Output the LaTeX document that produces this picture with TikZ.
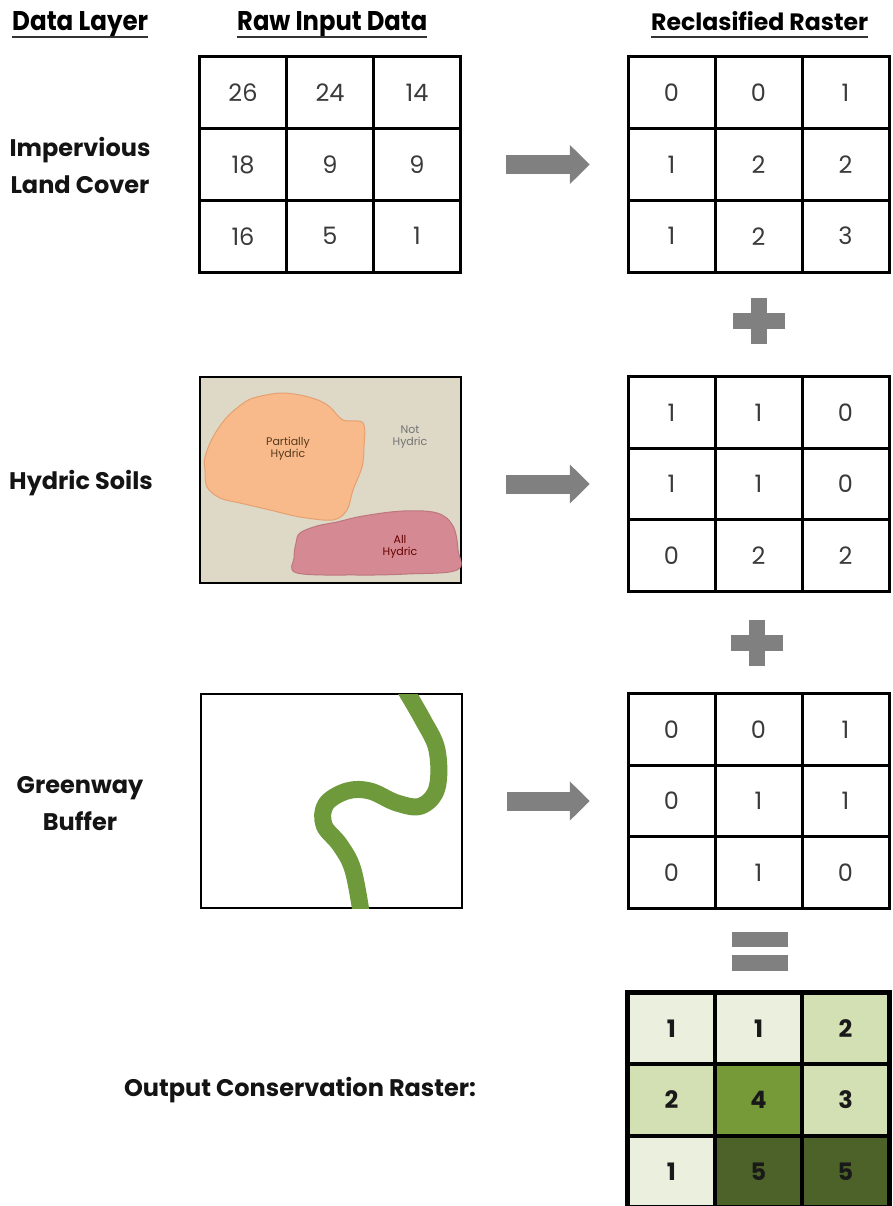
\documentclass[tikz,border=0pt]{standalone}
\usepackage{fontspec}
\setmainfont{Poppins}
\usetikzlibrary{arrows.meta}

\definecolor{arrowgray}{HTML}{808080}
\definecolor{soilbg}{HTML}{DDD9C6}
\definecolor{partial}{HTML}{F8BA8A}
\definecolor{partialedge}{HTML}{E6A071}
\definecolor{allhyd}{HTML}{D58A93}
\definecolor{allhydedge}{HTML}{BE7680}
\definecolor{trail}{HTML}{6E9A3B}
\definecolor{outA}{HTML}{EAF0DD}
\definecolor{outB}{HTML}{D3E0B4}
\definecolor{outC}{HTML}{779A39}
\definecolor{outD}{HTML}{4D6228}
\definecolor{numgray}{HTML}{3A3A3A}

% 3x3 raster: name, centre x, centre y, list of fill/value pairs, cell style
\newcommand\rastergrid[5]{%
  \node[minimum width=261pt, minimum height=215pt, inner sep=0] (#1) at (#2,#3) {};
  \foreach \cf/\v [count=\k from 0] in {#4} {%
    \pgfmathtruncatemacro\cc{mod(\k,3)}%
    \pgfmathtruncatemacro\rr{int(\k/3)}%
    \node[#5, fill=\cf] (#1-\k) at ({#2+87*(\cc-1)},{#3+71.67*(\rr-1)}) {\v};
  }%
}

\begin{document}
\begin{tikzpicture}[x=1pt, y=-1pt,
  header/.style={anchor=base west, inner sep=0},
  layer/.style={align=center, inner sep=0, font=\fontsize{24}{37}\selectfont\bfseries, text=black!92},
  cell/.style={draw=black, line width=3pt, minimum width=87pt, minimum height=71.67pt,
               inner sep=0, font=\fontsize{24}{24}\selectfont, text=numgray},
  outcell/.style={cell, line width=3.5pt, font=\fontsize{24}{24}\selectfont\bfseries, text=black!90},
  blocklabel/.style={align=center, inner sep=0, font=\fontsize{11}{12}\selectfont},
  blockarrow/.style={arrowgray, line width=19pt, -{Triangle[length=20pt,width=38pt]}},
  opbar/.style={fill=arrowgray, draw=none}
]
\useasboundingbox (0,0) rectangle (893,1206);
\fill[white] (0,0) rectangle (893,1206);

% column headings
\node[header] (hLayer) at (12,31) {\resizebox{136pt}{19pt}{\bfseries Data Layer}};
\node[header] (hRaw) at (237,31) {\resizebox{190pt}{19pt}{\bfseries Raw Input Data}};
\node[header] (hRec) at (651,31) {\resizebox{217pt}{19pt}{\bfseries Reclasified Raster}};
\foreach \h in {hLayer,hRaw,hRec}
  \draw[line width=2.2pt, black!80] ([yshift=-6pt]\h.base west) -- ([yshift=-6pt]\h.base east);

% layer names
\node[layer] (lImp) at (80,165) {Impervious\\Land Cover};
\node[layer] (lHyd) at (81,483) {Hydric Soils};
\node[layer] (lGrn) at (80,804) {Greenway\\Buffer};
\node[layer] (lOut) at (300,1090) {Output Conservation Raster:};

% impervious land cover: raw values
\rastergrid{raw1}{330}{164.5}{white/26,white/24,white/14,white/18,white/9,white/9,white/16,white/5,white/1}{cell}

% hydric soils map
\node[draw=black, line width=2.5pt, fill=soilbg, minimum width=261pt, minimum height=206pt, inner sep=0] (soil) at (330.5,480) {};
\fill[allhyd, draw=allhydedge, line width=1pt] plot[smooth cycle, tension=0.6] coordinates {
  (300,533) (317,526) (337,522) (363,516) (403,511) (437,513) (453,526) (458,550)
  (457,570) (407,574) (357,575) (297,573) (294,558) (296,543)};
\fill[partial, draw=partialedge, line width=1pt] plot[smooth cycle, tension=0.55] coordinates {
  (227,417) (245,402) (257,397) (280,393) (300,395) (318,400) (330,407) (343,420) (363,423)
  (364,447) (362,467) (353,490) (347,510) (333,520) (300,517) (270,510) (240,503)
  (220,498) (207,487) (205,470) (205,457) (213,437)};
\node[blocklabel, text=black!55!brown] (tPart) at (288,449) {Partially\\Hydric};
\node[blocklabel, text=black!55] (tNot) at (410,437) {Not\\Hydric};
\node[blocklabel, text=black!60!red] (tAll) at (400,547) {All\\Hydric};

% greenway buffer map
\node[draw=black, line width=2.5pt, minimum width=261pt, minimum height=214pt, inner sep=0] (green) at (331.5,801) {};
\begin{scope}
  \clip (201,694) rectangle (462,908);
  \draw[trail, line width=17pt, line cap=round, line join=round] plot[smooth, tension=0.6] coordinates {
    (402,684) (423,720) (437,750) (437,788) (421,806) (397,803) (370,791) (347,791)
    (326,804) (324,825) (340,845) (353,870) (362,918)};
\end{scope}

% reclassified rasters
\rastergrid{rc1}{758.5}{164.5}{white/0,white/0,white/1,white/1,white/2,white/2,white/1,white/2,white/3}{cell}
\rastergrid{rc2}{758.5}{484}{white/1,white/1,white/0,white/1,white/1,white/0,white/0,white/2,white/2}{cell}
\rastergrid{rc3}{758.5}{801}{white/0,white/0,white/1,white/0,white/1,white/1,white/0,white/1,white/0}{cell}

% output raster
\rastergrid{out}{758.5}{1100}{outA/1,outA/1,outB/2,outB/2,outC/4,outB/3,outA/1,outD/5,outD/5}{outcell}
\draw[line width=5pt] (out.north west) rectangle (out.south east);

% reclassification arrows
\draw[blockarrow, shorten <=45pt, shorten >=38pt] (raw1.east) -- (rc1.west);
\draw[blockarrow, shorten <=44pt, shorten >=38pt] (soil.east |- rc2.west) -- (rc2.west);
\draw[blockarrow, shorten <=44pt, shorten >=38pt] (green.east |- rc3.west) -- (rc3.west);

% plus and equals signs
\coordinate (plus1) at (759,321);
\coordinate (plus2) at (757,643);
\foreach \p in {plus1,plus2} {
  \fill[opbar] ([xshift=-26pt,yshift=-8pt]\p) rectangle ([xshift=26pt,yshift=8pt]\p);
  \fill[opbar] ([xshift=-8pt,yshift=-23pt]\p) rectangle ([xshift=8pt,yshift=23pt]\p);
}
\coordinate (equals) at (760,951);
\fill[opbar] ([xshift=-28pt,yshift=19pt]equals) rectangle ([xshift=28pt,yshift=4pt]equals);
\fill[opbar] ([xshift=-28pt,yshift=-4pt]equals) rectangle ([xshift=28pt,yshift=-20pt]equals);
\end{tikzpicture}
\end{document}
